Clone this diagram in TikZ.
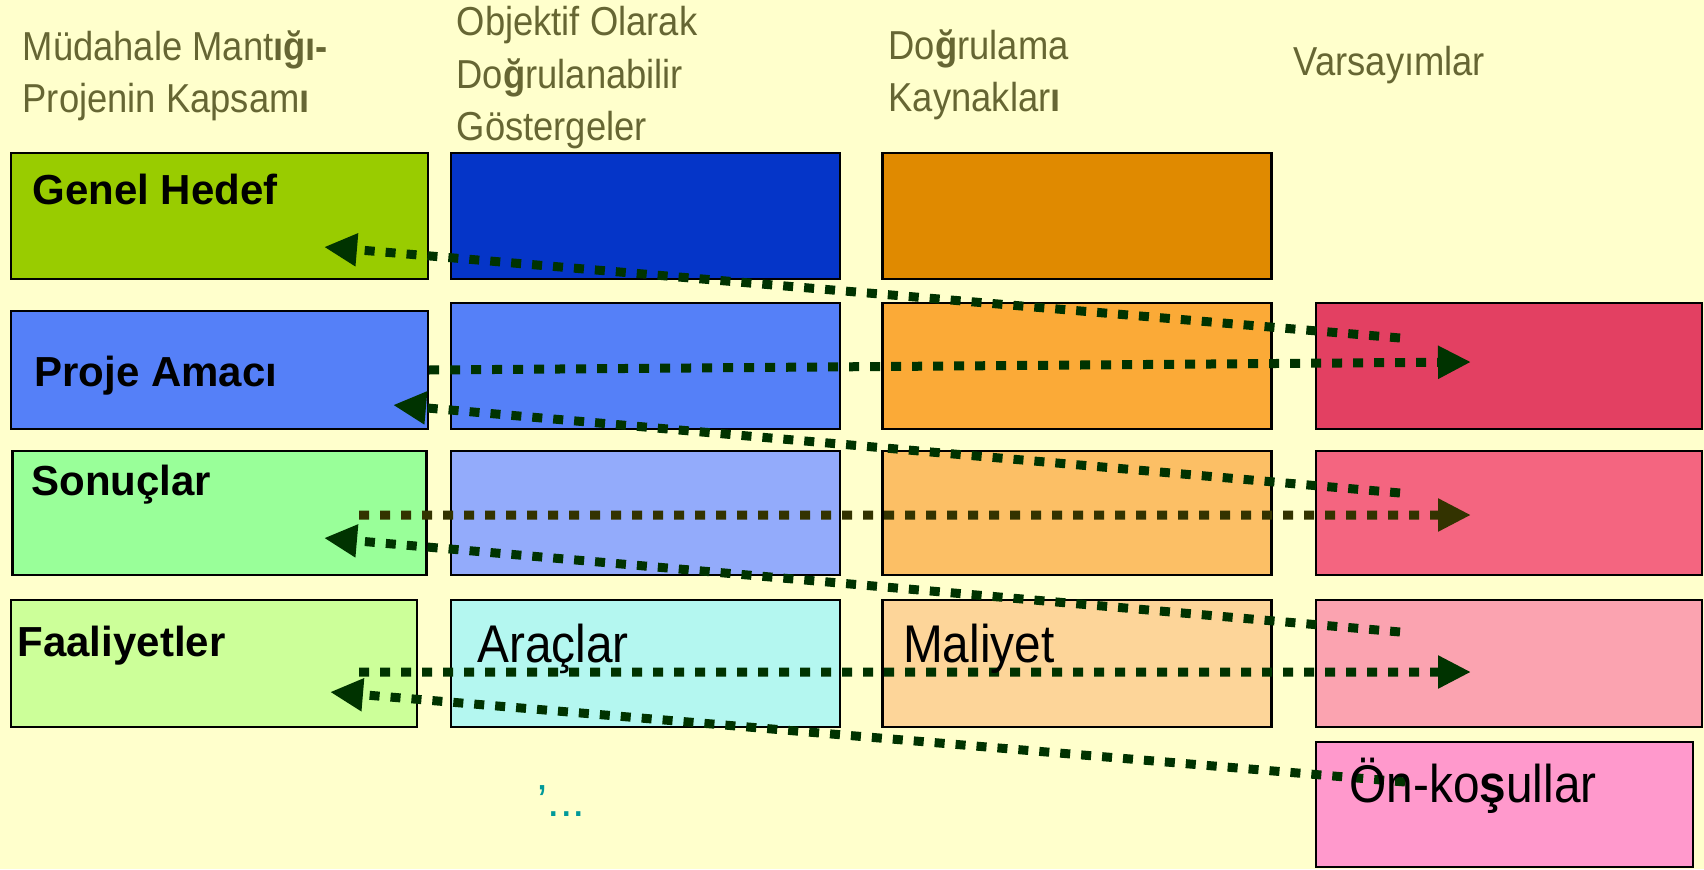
\documentclass[tikz,border=0pt]{standalone}
\usepackage{fontspec}
\setmainfont{Liberation Sans}
\newfontfamily\narrowfont[FakeStretch=0.9]{Liberation Sans}
\usepackage{xcolor}
\usepackage{tikz}
\usetikzlibrary{shapes,arrows,arrows.meta,positioning}

\definecolor{paper}{HTML}{FFFFCC}
\definecolor{headtext}{HTML}{666633}
\definecolor{tealnote}{HTML}{009999}
\definecolor{arrowgreen}{HTML}{003300}
\definecolor{arrowolive}{HTML}{333300}
\definecolor{goalgreen}{HTML}{99CC00}
\definecolor{purposeblue}{HTML}{5580F8}
\definecolor{resultgreen}{HTML}{99FF99}
\definecolor{activitygreen}{HTML}{CCFF99}
\definecolor{indblue}{HTML}{0535C8}
\definecolor{indblueb}{HTML}{93ABFB}
\definecolor{toolcyan}{HTML}{B4F7F0}
\definecolor{srcorange}{HTML}{E08A00}
\definecolor{srcorangea}{HTML}{FBAA37}
\definecolor{srcorangeb}{HTML}{FCBF65}
\definecolor{costorange}{HTML}{FDD599}
\definecolor{asmred}{HTML}{E34062}
\definecolor{asmreda}{HTML}{F46580}
\definecolor{asmredb}{HTML}{FBA3B0}
\definecolor{precondpink}{HTML}{FF99CC}

\begin{document}
\begin{tikzpicture}[node distance=4.3cm, auto]
    \tikzstyle{logic} = [rectangle, draw=black, line width=0.022cm, inner sep=0pt, minimum width=3.89cm, minimum height=1.26cm]
    \tikzstyle{heading} = [anchor=base west, align=left, inner sep=0pt, text=headtext, font=\narrowfont\fontsize{11.5}{15}\selectfont]
    \tikzstyle{boldlabel} = [anchor=base west, inner sep=0pt, font=\bfseries\fontsize{11.95}{14}\selectfont]
    \tikzstyle{plainlabel} = [anchor=base west, inner sep=0pt, font=\narrowfont\fontsize{15.1}{18}\selectfont]
    \tikzstyle{arrow} = [line width=0.09cm, dash pattern=on 0.1cm off 0.11cm, ->, >={Triangle[length=0.33cm, width=0.31cm]}, color=arrowgreen]

    \fill [paper] (0,0) rectangle (17.04,-8.69);
    \useasboundingbox (0,0) rectangle (17.04,-8.69);

    % Column headings (placed at the baseline of their last line)
    \node [heading] (logichead) at (0.22,-1.13) {Müdahale Mant\textbf{ığı-}\\Projenin Kapsam\textbf{ı}};
    \node [heading] (indhead) at (4.56,-1.41) {Objektif Olarak\\Do\textbf{ğ}rulanabilir\\Göstergeler};
    \node [heading] (srchead) at (8.88,-1.12) {Do\textbf{ğ}rulama\\Kaynaklar\textbf{ı}};
    \node [heading] (asmhead) at (12.93,-0.76) {Varsayımlar};

    % Intervention logic - left column
    \node [logic, fill=goalgreen, minimum width=4.17cm] (goal) at (2.195,-2.16) {};
    \node [logic, fill=purposeblue, minimum width=4.17cm, minimum height=1.18cm, below of=goal, node distance=1.54cm] (purpose) {};
    \node [logic, fill=resultgreen, minimum width=4.14cm, minimum height=1.24cm, below of=purpose, node distance=1.43cm] (results) {};
    \node [logic, fill=activitygreen, minimum width=4.06cm, minimum height=1.27cm, below of=results, node distance=1.505cm, xshift=-0.055cm] (activities) {};

    % Indicators
    \node [logic, fill=indblue, right of=goal, node distance=4.26cm] (ind1) {};
    \node [logic, fill=purposeblue, below of=ind1, node distance=1.5cm] (ind2) {};
    \node [logic, fill=indblueb, minimum height=1.24cm, below of=ind2, node distance=1.47cm] (ind3) {};
    \node [logic, fill=toolcyan, minimum height=1.27cm, below of=ind3, node distance=1.505cm] (tools) {};

    % Sources of verification
    \node [logic, fill=srcorange, right of=ind1, node distance=4.315cm] (src1) {};
    \node [logic, fill=srcorangea, right of=ind2, node distance=4.315cm] (src2) {};
    \node [logic, fill=srcorangeb, minimum height=1.24cm, right of=ind3, node distance=4.315cm] (src3) {};
    \node [logic, fill=costorange, minimum height=1.27cm, right of=tools, node distance=4.315cm] (costs) {};

    % Assumptions
    \node [logic, fill=asmred, minimum width=3.86cm, right of=src2, node distance=4.32cm] (asm1) {};
    \node [logic, fill=asmreda, minimum width=3.86cm, minimum height=1.24cm, below of=asm1, node distance=1.47cm] (asm2) {};
    \node [logic, fill=asmredb, minimum width=3.86cm, minimum height=1.27cm, below of=asm2, node distance=1.505cm] (asm3) {};
    \node [logic, fill=precondpink, minimum width=3.77cm, minimum height=1.25cm, below of=asm3, node distance=1.41cm, xshift=-0.045cm] (precond) {};

    % Connections
    \draw [arrow] ([shift={(-1.09,0.28)}]asm1.center) -- ([shift={(1.045,-0.31)}]goal.center);
    \draw [arrow] (purpose.east) -- ([shift={(-0.38,0.04)}]asm1.center);
    \draw [arrow] ([shift={(-1.09,0.2)}]asm2.center) -- ([shift={(1.735,-0.35)}]purpose.center);
    \draw [arrow, color=arrowolive] ([shift={(1.395,-0.02)}]results.center) -- ([shift={(-0.38,-0.02)}]asm2.center);
    \draw [arrow] ([shift={(-1.09,0.315)}]asm3.center) -- ([shift={(1.045,-0.25)}]results.center);
    \draw [arrow] ([shift={(1.45,-0.085)}]activities.center) -- ([shift={(-0.38,-0.085)}]asm3.center);
    \draw [arrow] ([shift={(-0.995,0.225)}]precond.center) -- ([shift={(1.16,-0.285)}]activities.center);

    % Box texts
    \node [boldlabel] (goaltxt) at ([shift={(0.22,-0.53)}]goal.north west) {Genel Hedef};
    \node [boldlabel] (purposetxt) at ([shift={(0.24,-0.77)}]purpose.north west) {Proje Amacı};
    \node [boldlabel] (resultstxt) at ([shift={(0.195,-0.46)}]results.north west) {Sonuçlar};
    \node [boldlabel] (activitiestxt) at ([shift={(0.07,-0.58)}]activities.north west) {Faaliyetler};
    \node [plainlabel] (toolstxt) at ([shift={(0.27,-0.64)}]tools.north west) {Araçlar};
    \node [plainlabel] (coststxt) at ([shift={(0.21,-0.64)}]costs.north west) {Maliyet};
    \node [plainlabel] (precondtxt) at ([shift={(0.34,-0.62)}]precond.north west) {Ön-ko\textbf{ş}ullar};
    \node [anchor=base west, inner sep=0pt, text=tealnote, font=\fontsize{12.8}{15}\selectfont] (more) at (5.37,-8.16) {’...};
\end{tikzpicture}
\end{document}
